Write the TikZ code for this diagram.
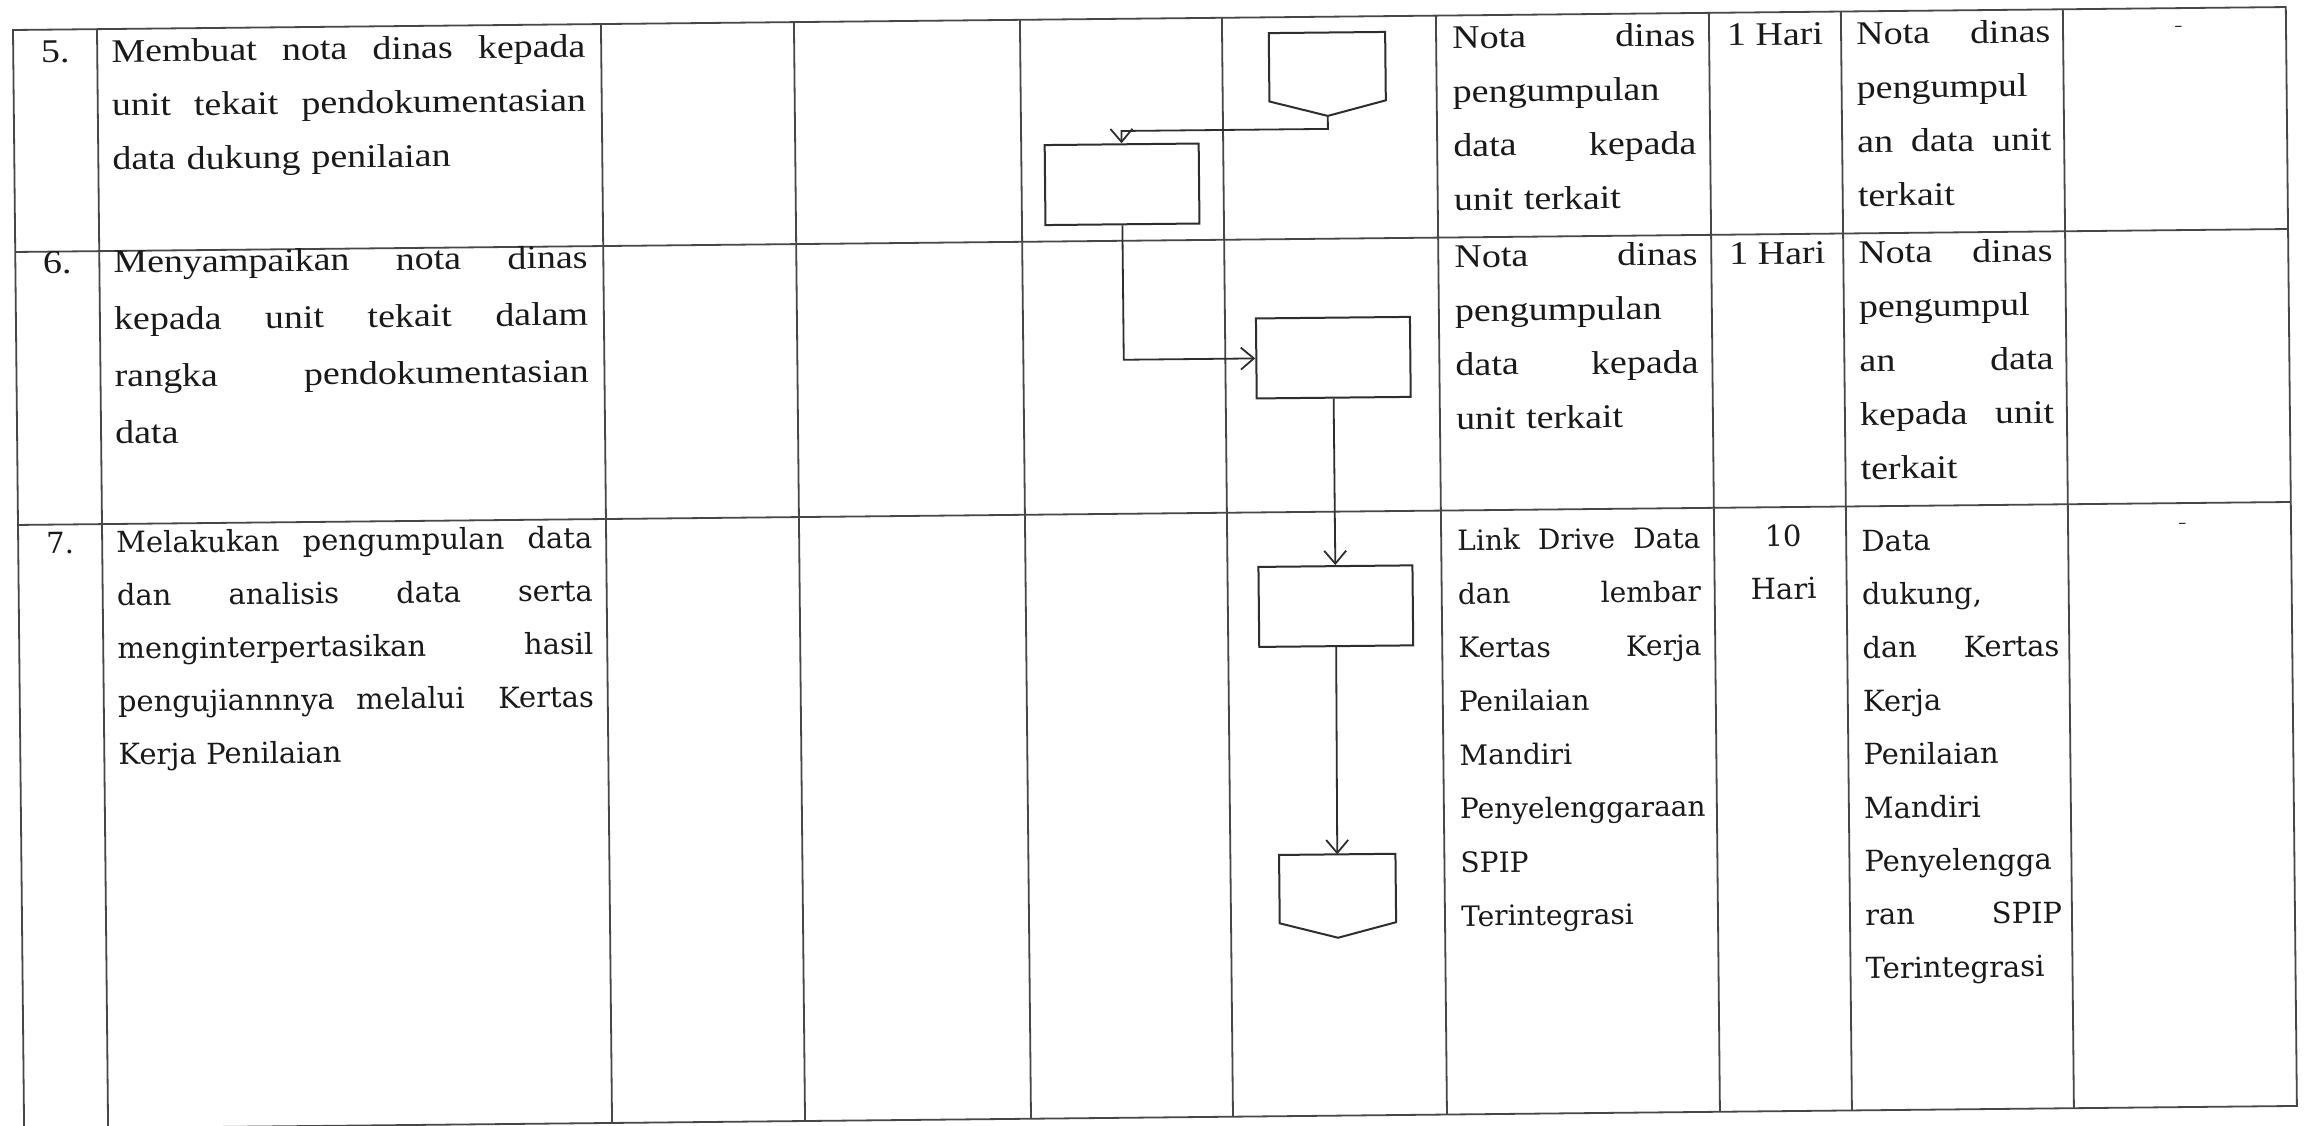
\documentclass[tikz,border=0pt]{standalone}
\usepackage{fontspec}
\newfontfamily\bkfont{DejaVu Serif}
\newfontfamily\cmfont[FakeStretch=1.15]{Liberation Serif}
\usetikzlibrary{arrows.meta}
\newcommand\jl[2]{\leavevmode\hbox to #1{#2}}
\begin{document}
\begin{tikzpicture}[x=1pt,y=-1pt,
  tbl/.style={line width=1.8pt, draw=black!72},
  shp/.style={line width=2pt, draw=black!82},
  arr/.style={line width=1.8pt, draw=black!82, -{Straight Barb[length=13pt,width=22pt,line width=1.8pt]}},
  procbox/.style={shp, rectangle, minimum width=154pt, minimum height=80pt, inner sep=0pt},
  offp/.style={rectangle, minimum width=116pt, minimum height=83pt, inner sep=0pt},
  ta/.style={anchor=base west, inner sep=0pt, align=left, text=black!90, font=\cmfont\fontsize{33}{54}\selectfont},
  tb/.style={anchor=base west, inner sep=0pt, align=left, text=black!90, font=\bkfont\fontsize{28}{53.7}\selectfont},
  dsh/.style={inner sep=0pt, text=black!85, font=\fontsize{26}{30}\selectfont}
]
\fill[white] (0,0) rectangle (2311,1126);
\useasboundingbox (0,0) rectangle (2311,1126);
\begin{scope}[shift={(13,30)}, rotate=0.579, transform shape]
% table grid
\draw[tbl] (0,0) rectangle (2273,1099);
\foreach \x in {84,588,781,1007,1209,1423,1696,1828,2050} \draw[tbl] (\x,0) -- (\x,1099);
\foreach \y in {222,495} \draw[tbl] (0,\y) -- (2273,\y);

% flow shapes
\node[offp] (o1) at (1314,57.5) {};
\draw[shp] (o1.north west) -- (o1.north east) -- ([yshift=15pt]o1.south east) -- (o1.south) -- ([yshift=15pt]o1.south west) -- cycle;
\node[procbox] (A) at (1107.5,165.5) {};
\node[procbox] (B) at (1317,341) {};
\node[procbox] (C) at (1317,589.5) {};
\node[offp] (o2) at (1316,879.5) {};
\draw[shp] (o2.north west) -- (o2.north east) -- ([yshift=15pt]o2.south east) -- (o2.south) -- ([yshift=15pt]o2.south west) -- cycle;

% connectors
\draw[arr] (o1.south) -- ++(0,13) -| (A.north);
\draw[arr] (A.south) |- (B.west);
\draw[arr] (B.south) -- (C.north);
\draw[arr] (C.south) -- (o2.north);

% row 5
\node[ta, anchor=base] (n5) at (42,33) {5.};
\node[ta, text width=474pt] (t5a) at (98,33) {\jl{474pt}{Membuat \hfill nota \hfill dinas \hfill kepada}\\\jl{474pt}{unit \hfill tekait \hfill pendokumentasian}\\data dukung penilaian};
\node[ta, text width=243pt] (t5b) at (1439,33) {\jl{243pt}{Nota \hfill dinas}\\pengumpulan\\\jl{243pt}{data \hfill kepada}\\unit terkait};
\node[ta, anchor=base] (d5) at (1762,33) {1 Hari};
\node[ta, text width=194pt] (t5c) at (1843,33) {\jl{194pt}{Nota \hfill dinas}\\pengumpul\\\jl{194pt}{an \hfill data \hfill unit}\\terkait};
\node[dsh] (dash5) at (2166,21) {-};

% row 6
\node[ta, anchor=base] (n6) at (42,244) {6.};
\node[ta, text width=474pt, font=\cmfont\fontsize{33}{57}\selectfont] (t6a) at (98,244) {\jl{474pt}{Menyampaikan \hfill nota \hfill dinas}\\\jl{474pt}{kepada \hfill unit \hfill tekait \hfill dalam}\\\jl{474pt}{rangka \hfill pendokumentasian}\\data};
\node[ta, text width=243pt] (t6b) at (1439,252) {\jl{243pt}{Nota \hfill dinas}\\pengumpulan\\\jl{243pt}{data \hfill kepada}\\unit terkait};
\node[ta, anchor=base] (d6) at (1762,252) {1 Hari};
\node[ta, text width=194pt] (t6c) at (1843,252) {\jl{194pt}{Nota \hfill dinas}\\pengumpul\\\jl{194pt}{an \hfill data}\\\jl{194pt}{kepada \hfill unit}\\terkait};

% row 7
\node[tb, anchor=base, font=\bkfont\fontsize{29}{53}\selectfont] (n7) at (42,524) {7.};
\node[tb, text width=476pt, font=\bkfont\fontsize{29}{53}\selectfont] (t7a) at (98,524) {\jl{476pt}{Melakukan \hfill pengumpulan \hfill data}\\\jl{476pt}{dan \hfill analisis \hfill data \hfill serta}\\\jl{476pt}{menginterpertasikan \hfill hasil}\\\jl{476pt}{pengujiannnya \hfill melalui \hfill\hfill Kertas}\\Kerja Penilaian};
\node[tb, text width=243pt] (t7b) at (1439,535) {\jl{243pt}{Link \hfill Drive \hfill Data}\\\jl{243pt}{dan \hfill lembar}\\\jl{243pt}{Kertas \hfill Kerja}\\Penilaian\\Mandiri\\Penyelenggaraan\\SPIP\\Terintegrasi};
\node[tb, anchor=base, text width=110pt, align=center, font=\bkfont\fontsize{29}{53}\selectfont] (d7) at (1765,534) {10\\Hari};
\node[tb, text width=197pt, font=\bkfont\fontsize{29}{53.4}\selectfont] (t7c) at (1843,540) {Data\\dukung,\\\jl{197pt}{dan \hfill Kertas}\\Kerja\\Penilaian\\Mandiri\\Penyelengga\\\jl{197pt}{ran \hfill SPIP}\\Terintegrasi};
\node[dsh] (dash7) at (2165,518) {-};
\end{scope}
\end{tikzpicture}
\end{document}
